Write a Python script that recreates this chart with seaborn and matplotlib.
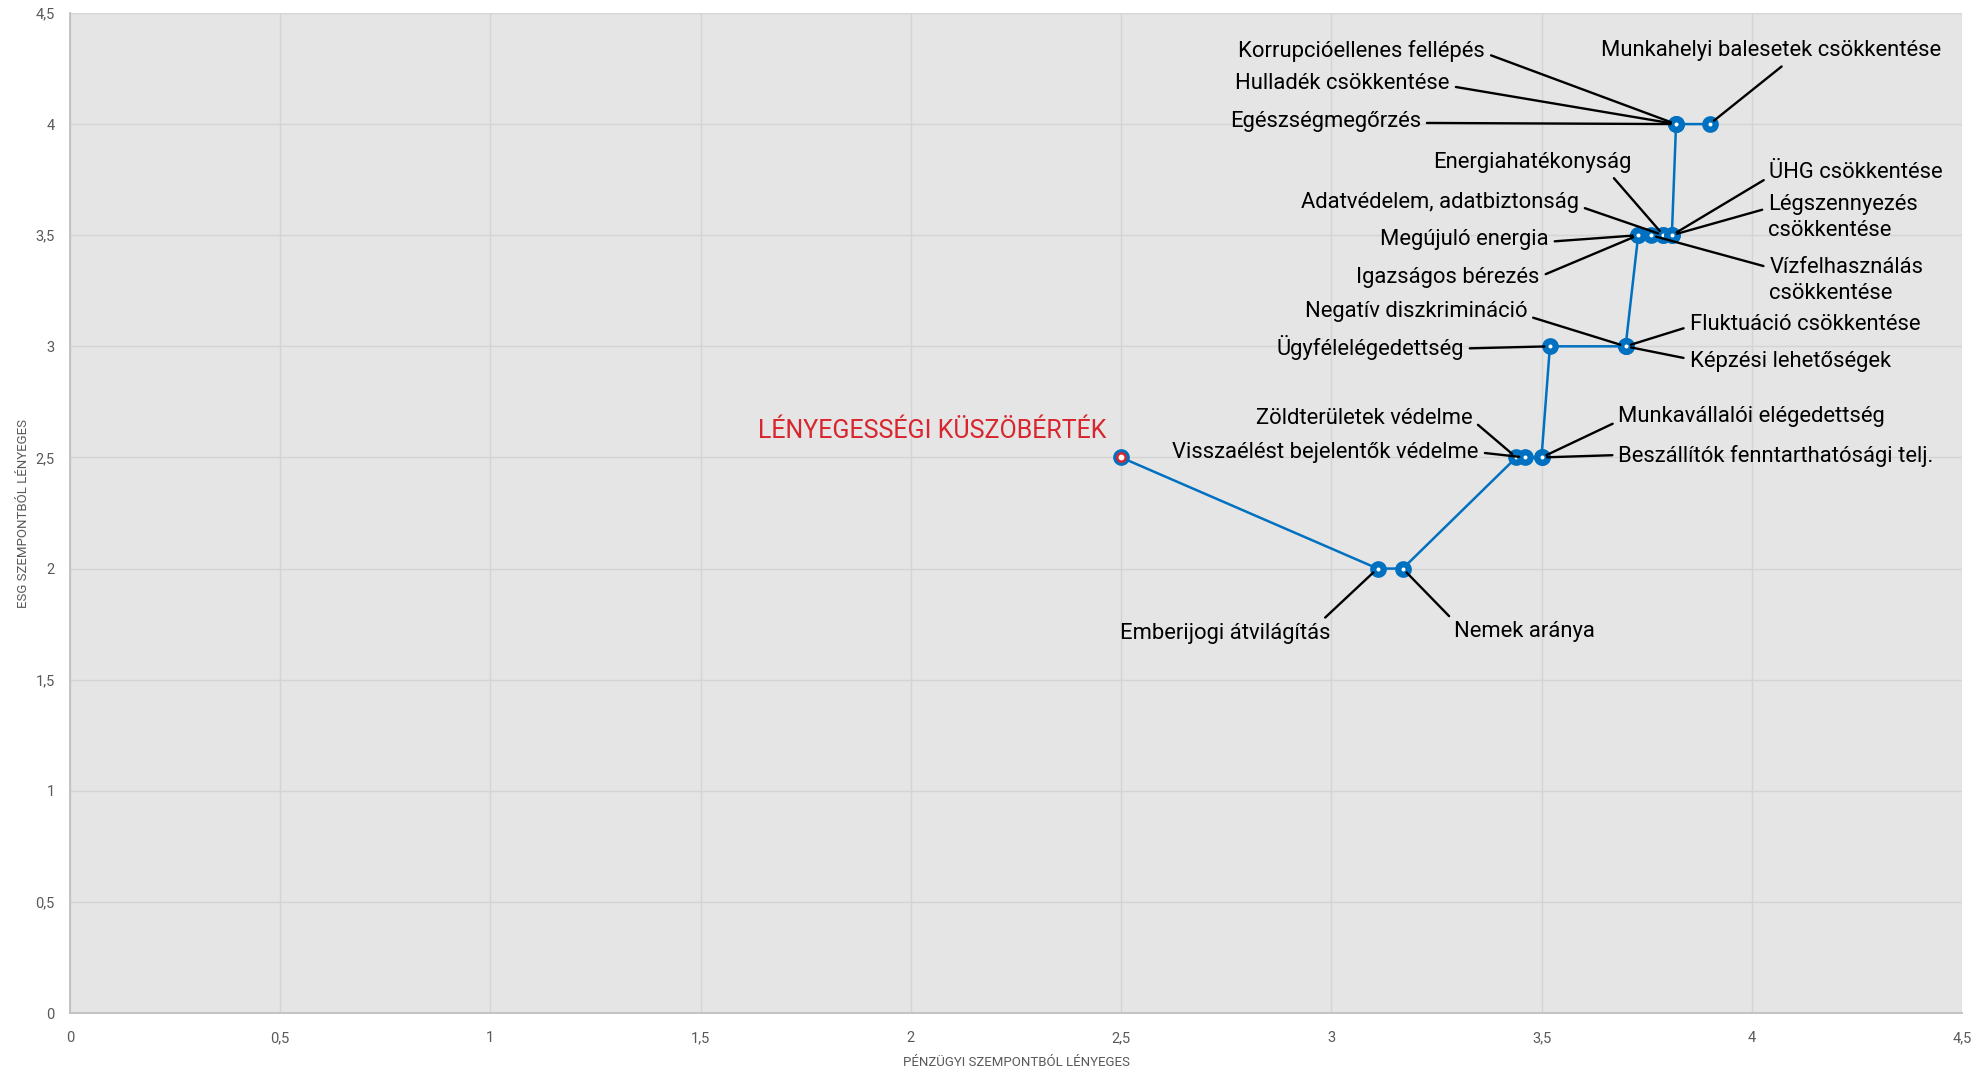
import matplotlib
matplotlib.use("Agg")
import matplotlib.pyplot as plt
from matplotlib.ticker import FuncFormatter
import seaborn as sns
import pandas as pd

# ---------------- data ----------------
threshold_label = "LÉNYEGESSÉGI KÜSZÖBÉRTÉK"
threshold_x = 2.5
threshold_y = 2.5

topics = [
    "Emberijogi átvilágítás", "Nemek aránya",
    "Zöldterületek védelme", "Visszaélést bejelentők védelme",
    "Munkavállalói elégedettség", "Beszállítók fenntarthatósági telj.",
    "Ügyfélelégedettség", "Negatív diszkrimináció",
    "Fluktuáció csökkentése", "Képzési lehetőségek",
    "Megújuló energia", "Igazságos bérezés",
    "Vízfelhasználás\ncsökkentése", "Adatvédelem, adatbiztonság",
    "Energiahatékonyság", "ÜHG csökkentése",
    "Légszennyezés\ncsökkentése", "Korrupcióellenes fellépés",
    "Hulladék csökkentése", "Egészségmegőrzés",
    "Munkahelyi balesetek csökkentése",
]
financial = [3.11, 3.17, 3.44, 3.46, 3.50, 3.50, 3.52, 3.70, 3.70, 3.70,
             3.73, 3.73, 3.76, 3.79, 3.79, 3.81, 3.81, 3.82, 3.82, 3.82, 3.90]
esg = [2.0, 2.0, 2.5, 2.5, 2.5, 2.5, 3.0, 3.0, 3.0, 3.0,
       3.5, 3.5, 3.5, 3.5, 3.5, 3.5, 3.5, 4.0, 4.0, 4.0, 4.0]

x_ticks = [0, 0.5, 1, 1.5, 2, 2.5, 3, 3.5, 4, 4.5]
y_ticks = [0, 0.5, 1, 1.5, 2, 2.5, 3, 3.5, 4, 4.5]
x_title = "PÉNZÜGYI SZEMPONTBÓL LÉNYEGES"
y_title = "ESG SZEMPONTBÓL LÉNYEGES"

# ---------------- label layout (text anchor, alignment, leader start) ----------------
layout = {
    "Emberijogi átvilágítás": (2.747, 1.709, "center", (0.95, 1.0)),
    "Nemek aránya": (3.460, 1.715, "center", (0.0, 1.0)),
    "Zöldterületek védelme": (3.336, 2.677, "right", (1.0, 0.4)),
    "Visszaélést bejelentők védelme": (3.351, 2.523, "right", (1.0, 0.5)),
    "Munkavállalói elégedettség": (3.683, 2.683, "left", (0.0, 0.3)),
    "Beszállítók fenntarthatósági telj.": (3.683, 2.506, "left", (0.0, 0.55)),
    "Ügyfélelégedettség": (3.315, 2.996, "right", (1.0, 0.45)),
    "Negatív diszkrimináció": (3.466, 3.156, "right", (1.0, 0.3)),
    "Fluktuáció csökkentése": (3.852, 3.099, "left", (0.0, 0.4)),
    "Képzési lehetőségek": (3.852, 2.933, "left", (0.0, 0.6)),
    "Megújuló energia": (3.517, 3.480, "right", (1.0, 0.4)),
    "Igazságos bérezés": (3.496, 3.309, "right", (1.0, 0.55)),
    "Vízfelhasználás\ncsökkentése": (4.042, 3.295, "left", (0.0, 0.78)),
    "Adatvédelem, adatbiztonság": (3.589, 3.645, "right", (1.0, 0.35)),
    "Energiahatékonyság": (3.713, 3.828, "right", (0.89, 0.0)),
    "ÜHG csökkentése": (4.042, 3.782, "left", (0.0, 0.3)),
    "Légszennyezés\ncsökkentése": (4.039, 3.580, "left", (0.0, 0.7)),
    "Korrupcióellenes fellépés": (3.366, 4.329, "right", (1.0, 0.4)),
    "Hulladék csökkentése": (3.282, 4.181, "right", (1.0, 0.4)),
    "Egészségmegőrzés": (3.213, 4.010, "right", (1.0, 0.45)),
    "Munkahelyi balesetek csökkentése": (3.641, 4.329, "left", (0.55, 0.0)),
}
threshold_text_pos = (2.465, 2.620)

# ---------------- style ----------------
sns.set_theme(style="white")
FONT = ["Roboto", "DejaVu Sans"]
plt.rcParams["font.family"] = FONT

BLUE = "#0070C0"
RED = "#D9262E"
GREY_TXT = "#595959"

fig = plt.figure(figsize=(19.87, 10.72), dpi=100)
ax = fig.add_axes([0.0352, 0.0550, 0.9522, 0.9329])
ax.set_facecolor("#e5e5e5")

df = pd.DataFrame({
    "financial": [threshold_x] + financial,
    "esg": [threshold_y] + esg,
    "label": [threshold_label] + topics,
})

sns.lineplot(data=df, x="financial", y="esg", sort=False, estimator=None,
             color=BLUE, linewidth=1.8, marker="o", markersize=7.5,
             markerfacecolor="white", markeredgecolor=BLUE,
             markeredgewidth=4.5, ax=ax, zorder=3)

# threshold point: red inner ring
sns.scatterplot(x=[threshold_x], y=[threshold_y], ax=ax, s=36,
                facecolor="white", edgecolor=RED, linewidth=1.8, zorder=4)

for name, fx, ey in zip(topics, financial, esg):
    tx, ty, ha, rel = layout[name]
    ax.annotate(name, xy=(fx, ey), xytext=(tx, ty), textcoords="data",
                ha=ha, va="center", multialignment="left", linespacing=1.3,
                fontsize=15.8, color="black", family=FONT,
                arrowprops=dict(arrowstyle="-", color="black", lw=1.7,
                                shrinkA=2, shrinkB=4, relpos=rel),
                zorder=5)

ax.text(threshold_text_pos[0], threshold_text_pos[1], threshold_label,
        ha="right", va="center", fontsize=18, color=RED, family=FONT)

ax.set_xlim(0, 4.5)
ax.set_ylim(0, 4.5)
ax.set_xticks(x_ticks)
ax.set_yticks(y_ticks)
fmt = FuncFormatter(lambda v, p: f"{v:g}".replace(".", ","))
ax.xaxis.set_major_formatter(fmt)
ax.yaxis.set_major_formatter(fmt)
ax.tick_params(axis="both", length=0, labelsize=10.5, colors=GREY_TXT)
ax.tick_params(axis="x", pad=13)
ax.tick_params(axis="y", pad=11)
ax.grid(True, color="#d4d4d4", linewidth=1.0)
ax.set_axisbelow(True)
for s in ["top", "right"]:
    ax.spines[s].set_visible(False)
for s in ["left", "bottom"]:
    ax.spines[s].set_color("#bfbfbf")
    ax.spines[s].set_linewidth(1.3)

ax.set_xlabel(x_title, fontsize=9.5, color=GREY_TXT, labelpad=8)
ax.set_ylabel(y_title, fontsize=9.5, color=GREY_TXT, labelpad=4)

fig.savefig("out.png", dpi=100, facecolor="white")
